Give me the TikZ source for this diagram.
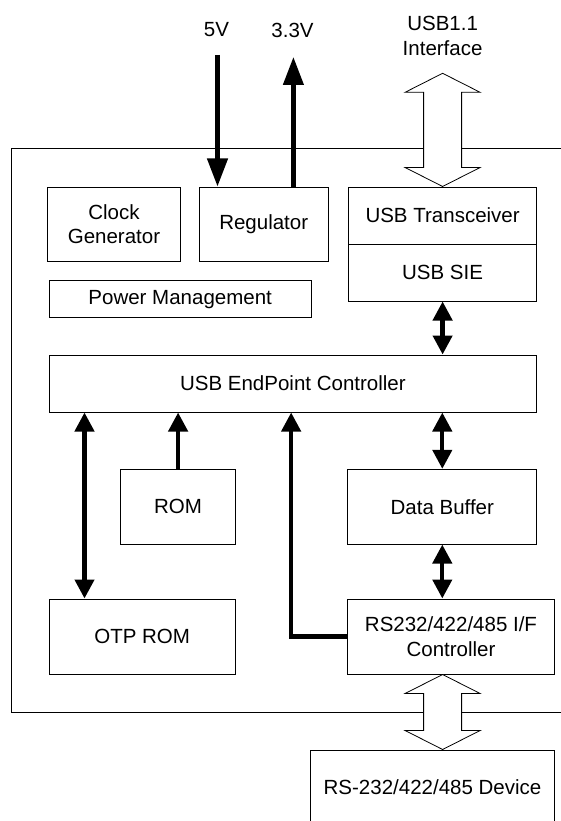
\documentclass[tikz,border=0pt]{standalone}
\usepackage{fontspec}
\setmainfont{Liberation Sans}
\usetikzlibrary{arrows.meta, calc}

% hollow two-way bus arrow between two points on one vertical line
\newcommand{\busarrow}[2]{%
  \draw[bus] (#1) -- ++(37.5pt,-19pt) -- ++(-18.5pt,0pt)
    -- ($(#2)+(19pt,19pt)$) -- ++(18.5pt,0pt) -- (#2)
    -- ++(-37.5pt,19pt) -- ++(18.5pt,0pt)
    -- ($(#1)+(-19pt,-19pt)$) -- ++(-18.5pt,0pt) -- cycle;}

\begin{document}
\begin{tikzpicture}[
    x=1pt, y=-1pt,
    font=\fontsize{20.5}{24.5}\selectfont,
    block/.style={rectangle, draw, line width=1pt, inner sep=0pt, align=center},
    label/.style={align=center, inner sep=0pt},
    frame/.style={line width=1.3pt},
    bus/.style={draw, line width=0.8pt, fill=white, line join=miter},
    link/.style={line width=4.3pt, >={Triangle[length=19pt,width=19pt]}},
    power/.style={line width=4.3pt, >={Triangle[length=28pt,width=20pt]}}
]
    \useasboundingbox (0,0) rectangle (561,821);
    \clip (0,0) rectangle (561,821);

    % Chip outline, open to the right
    \draw[frame] (561,148.7) -- (11.3,148.7) -- (11.3,712.7) -- (561,712.7);

    % Blocks inside the chip
    \node[block, minimum width=133pt, minimum height=74pt] (clk) at (114,224) {Clock\\Generator};
    \node[block, minimum width=129.4pt, minimum height=74pt] (reg) at (263.7,224) {Regulator};
    \node[block, minimum width=188.2pt, minimum height=57pt] (trx) at (442.6,215.5) {USB Transceiver};
    \node[block, minimum width=188.2pt, minimum height=57pt] (sie) at (442.6,272.5) {USB SIE};
    \node[block, minimum width=262.3pt, minimum height=37.5pt] (pm) at (180.2,299.2) {Power Management};
    \node[block, minimum width=487.7pt, minimum height=57pt] (ep) at (292.9,383.5) {USB EndPoint Controller};
    \node[block, minimum width=114.6pt, minimum height=74.7pt] (rom) at (178.1,506.7) {ROM};
    \node[block, minimum width=188.9pt, minimum height=74.7pt] (db) at (442.3,506.7) {Data Buffer};
    \node[block, minimum width=186.4pt, minimum height=75pt] (otp) at (142.2,636.5) {OTP ROM};
    \node[block, minimum width=206.5pt, minimum height=75pt] (rsctl) at (451,636.5) {RS232/422/485 I/F\\Controller};

    % Outside device
    \node[block, minimum width=243.6pt, minimum height=74pt] (dev) at (432.5,787) {RS-232/422/485 Device};

    % Power
    \node[label] (v5) at (216.5,30) {5V};
    \node[label] (v33) at (292.5,30) {3.3V};
    \coordinate (vin) at (217.5,55);
    \coordinate (vout) at (293.4,57);
    \draw[power, ->] (vin) -- (vin |- reg.north);
    \draw[power, ->] (vout |- reg.north) -- (vout);

    % USB bus
    \node[label] (usb) at (442.6,36) {USB1.1\\Interface};
    \coordinate (usbtop) at (442.6,73.3);
    \busarrow{usbtop}{trx.north}

    % Internal links
    \draw[link, <->] (sie.south) -- (sie.south |- ep.north);
    \draw[link, <->] (db.north) -- (db.north |- ep.south);
    \draw[link, <->] (db.south) -- (db.south |- rsctl.north);
    \draw[link, ->] (rom.north) -- (rom.north |- ep.south);
    \coordinate (otpx) at ([xshift=36pt]otp.north west);
    \draw[link, <->] (otpx) -- (otpx |- ep.south);
    \draw[link, ->] (rsctl.west) -| ($(ep.south west)+(242.6,0)$);

    % Serial bus
    \coordinate (sera) at (trx.north |- rsctl.south);
    \coordinate (serb) at (trx.north |- dev.north);
    \busarrow{sera}{serb}
\end{tikzpicture}
\end{document}
